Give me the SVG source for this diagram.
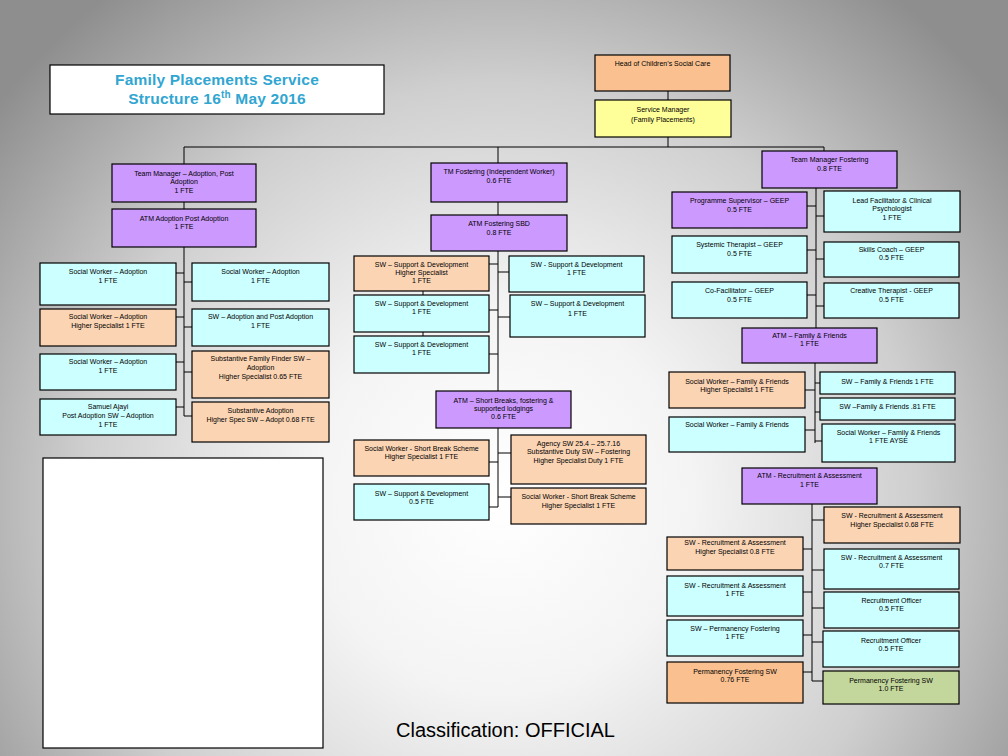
<svg xmlns="http://www.w3.org/2000/svg" width="1008" height="756" viewBox="0 0 1008 756">
<defs>
<radialGradient id="bg" gradientUnits="userSpaceOnUse" cx="500" cy="500" r="640">
<stop offset="0" stop-color="#ffffff"/>
<stop offset="0.3" stop-color="#f4f4f4"/>
<stop offset="0.65" stop-color="#cfcfcf"/>
<stop offset="1" stop-color="#8e8e8e"/>
</radialGradient>
<style>
rect.n{stroke:#000;stroke-width:1.2}
.pu{fill:#cc99ff}.cy{fill:#ccffff}.pe{fill:#fbd4b4}.or{fill:#fac090}.ye{fill:#ffff99}.gr{fill:#c3d69b}.wh{fill:#fff}
text.t{font-family:"Liberation Sans",Arial,sans-serif;font-size:7px;fill:#000;text-anchor:middle}
.c path{stroke:#000;stroke-width:1;fill:none}
</style>
</defs>
<rect width="1008" height="756" fill="url(#bg)"/>

<g id="title">
<rect class="n wh" x="50" y="65" width="334" height="49"/>
<text x="217" y="85" font-family="Liberation Sans,Arial,sans-serif" font-size="15.5" font-weight="bold" fill="#31a6d1" text-anchor="middle" letter-spacing="0.2">Family Placements Service</text>
<text x="217" y="104" font-family="Liberation Sans,Arial,sans-serif" font-size="15.5" font-weight="bold" fill="#31a6d1" text-anchor="middle" letter-spacing="0.2">Structure 16<tspan font-size="10" dy="-6">th</tspan><tspan dy="6"> May 2016</tspan></text>
</g>

<g class="c" id="connectors">
<path d="M668 91V100M668 137V147M184 147H824M184 147V164M498 147V163M824 147V151"/>
<path d="M184 202V209M184 247V416M176 273H184M176 317H184M176 362H184M176 407H184M184 282H192M184 327H192M184 372H192M184 416H192"/>
<path d="M498 202V215M498 251V391M489 264H498M489 310H498M489 354H498M498 272H509M498 317H510M423 291V295M423 332V336"/>
<path d="M498 428V507M489 462H498M489 507H498M498 453H511M498 497H511"/>
<path d="M816 188V328M807 206H816M807 250H816M807 295H816M816 216H824M816 259H824M816 306H824"/>
<path d="M815 363V443M805 390H815M805 430H815M815 383H820M815 412H820M815 441H822"/>
<path d="M812 504V681M803 549H812M803 592H812M803 635H812M803 672H812M812 520H824M812 570H824M812 608H824M812 642H823M812 681H823"/>
</g>

<g id="head"><rect class="n or" x="595" y="55" width="135" height="36"/><text class="t" x="662.5" y="66">Head of Children’s Social Care</text></g>
<g id="sm"><rect class="n ye" x="595" y="100" width="136" height="37"/><text class="t" x="663" y="111.5">Service Manager<tspan x="663" dy="10">(Family Placements)</tspan></text></g>

<g id="tmAdopt"><rect class="n pu" x="112" y="164" width="144" height="38"/><text class="t" x="184" y="175.5">Team Manager – Adoption, Post<tspan x="184" dy="8.5">Adoption</tspan><tspan x="184" dy="8.5">1 FTE</tspan></text></g>
<g id="atmAdopt"><rect class="n pu" x="112" y="209" width="144" height="38"/><text class="t" x="184" y="220.5">ATM Adoption Post Adoption<tspan x="184" dy="8.5">1 FTE</tspan></text></g>
<g id="tmFostIW"><rect class="n pu" x="431" y="163" width="136" height="39"/><text class="t" x="499" y="173.5">TM Fostering (Independent Worker)<tspan x="499" dy="9">0.6 FTE</tspan></text></g>
<g id="atmSBD"><rect class="n pu" x="431" y="215" width="136" height="36"/><text class="t" x="499" y="225.5">ATM Fostering SBD<tspan x="499" dy="9">0.8 FTE</tspan></text></g>
<g id="tmFost"><rect class="n pu" x="762" y="151" width="135" height="37"/><text class="t" x="829.5" y="161.5">Team Manager Fostering<tspan x="829.5" dy="9">0.8 FTE</tspan></text></g>

<g id="progSup"><rect class="n pu" x="672" y="192" width="135" height="36"/><text class="t" x="739.5" y="202.5">Programme Supervisor – GEEP<tspan x="739.5" dy="9">0.5 FTE</tspan></text></g>
<g id="leadFac"><rect class="n cy" x="824" y="191" width="136" height="41"/><text class="t" x="892" y="202.5">Lead Facilitator &amp; Clinical<tspan x="892" dy="8.5">Psychologist</tspan><tspan x="892" dy="8.5">1 FTE</tspan></text></g>
<g id="systemic"><rect class="n cy" x="672" y="236" width="135" height="37"/><text class="t" x="739.5" y="246.5">Systemic Therapist – GEEP<tspan x="739.5" dy="9">0.5 FTE</tspan></text></g>
<g id="skills"><rect class="n cy" x="824" y="242" width="135" height="35"/><text class="t" x="891.5" y="251.5">Skills Coach – GEEP<tspan x="891.5" dy="8.5">0.5 FTE</tspan></text></g>
<g id="coFac"><rect class="n cy" x="672" y="282" width="135" height="36"/><text class="t" x="739.5" y="292.5">Co-Facilitator – GEEP<tspan x="739.5" dy="9">0.5 FTE</tspan></text></g>
<g id="creative"><rect class="n cy" x="824" y="283" width="135" height="35"/><text class="t" x="891.5" y="292.5">Creative Therapist - GEEP<tspan x="891.5" dy="9">0.5 FTE</tspan></text></g>

<g id="atmFF"><rect class="n pu" x="742" y="328" width="135" height="35"/><text class="t" x="809.5" y="337.5">ATM – Family &amp; Friends<tspan x="809.5" dy="8.5">1 FTE</tspan></text></g>
<g id="swFFHS"><rect class="n pe" x="669" y="372" width="136" height="36"/><text class="t" x="737" y="383.5">Social Worker – Family &amp; Friends<tspan x="737" dy="8">Higher Specialist 1 FTE</tspan></text></g>
<g id="swFF1"><rect class="n cy" x="820" y="372" width="135" height="22"/><text class="t" x="887.5" y="383.5">SW – Family &amp; Friends 1 FTE</text></g>
<g id="swFF81"><rect class="n cy" x="820" y="398" width="135" height="22"/><text class="t" x="887.5" y="409">SW –Family &amp; Friends .81 FTE</text></g>
<g id="swFFL"><rect class="n cy" x="669" y="417" width="136" height="35"/><text class="t" x="737" y="426.5">Social Worker – Family &amp; Friends</text></g>
<g id="swFFAYSE"><rect class="n cy" x="822" y="424" width="133" height="38"/><text class="t" x="888.5" y="435">Social Worker – Family &amp; Friends<tspan x="888.5" dy="8">1 FTE AYSE</tspan></text></g>

<g id="atmRA"><rect class="n pu" x="742" y="468" width="135" height="36"/><text class="t" x="809.5" y="478">ATM - Recruitment &amp; Assessment<tspan x="809.5" dy="9">1 FTE</tspan></text></g>
<g id="swRAHS068"><rect class="n pe" x="824" y="507" width="136" height="36"/><text class="t" x="892" y="518">SW - Recruitment &amp; Assessment<tspan x="892" dy="8.5">Higher Specialist 0.68 FTE</tspan></text></g>
<g id="swRAHS08"><rect class="n pe" x="667" y="537" width="136" height="33"/><text class="t" x="735" y="545">SW - Recruitment &amp; Assessment<tspan x="735" dy="8.5">Higher Specialist 0.8 FTE</tspan></text></g>
<g id="swRA07"><rect class="n cy" x="824" y="549" width="135" height="40"/><text class="t" x="891.5" y="560">SW - Recruitment &amp; Assessment<tspan x="891.5" dy="8">0.7 FTE</tspan></text></g>
<g id="swRA1"><rect class="n cy" x="667" y="576" width="136" height="40"/><text class="t" x="735" y="587.5">SW - Recruitment &amp; Assessment<tspan x="735" dy="8.5">1 FTE</tspan></text></g>
<g id="recOff1"><rect class="n cy" x="824" y="592" width="135" height="36"/><text class="t" x="891.5" y="603">Recruitment Officer<tspan x="891.5" dy="8">0.5 FTE</tspan></text></g>
<g id="swPerm"><rect class="n cy" x="667" y="620" width="136" height="36"/><text class="t" x="735" y="630.5">SW – Permanency Fostering<tspan x="735" dy="8.5">1 FTE</tspan></text></g>
<g id="recOff2"><rect class="n cy" x="823" y="631" width="136" height="36"/><text class="t" x="891" y="642.5">Recruitment Officer<tspan x="891" dy="8.5">0.5 FTE</tspan></text></g>
<g id="permSW076"><rect class="n or" x="667" y="662" width="136" height="41"/><text class="t" x="735" y="673.5">Permanency Fostering SW<tspan x="735" dy="8.5">0.76 FTE</tspan></text></g>
<g id="permSW10"><rect class="n gr" x="823" y="671" width="136" height="33"/><text class="t" x="891" y="682.5">Permanency Fostering SW<tspan x="891" dy="8.5">1.0 FTE</tspan></text></g>

<g id="swA1L"><rect class="n cy" x="40" y="263" width="136" height="42"/><text class="t" x="108" y="274">Social Worker – Adoption<tspan x="108" dy="9">1 FTE</tspan></text></g>
<g id="swA1R"><rect class="n cy" x="192" y="263" width="137" height="38"/><text class="t" x="260.5" y="274">Social Worker – Adoption<tspan x="260.5" dy="9">1 FTE</tspan></text></g>
<g id="swAHS"><rect class="n pe" x="40" y="309" width="136" height="37"/><text class="t" x="108" y="319">Social Worker – Adoption<tspan x="108" dy="9">Higher Specialist 1 FTE</tspan></text></g>
<g id="swAPA"><rect class="n cy" x="192" y="309" width="137" height="37"/><text class="t" x="260.5" y="319">SW – Adoption and Post Adoption<tspan x="260.5" dy="9">1 FTE</tspan></text></g>
<g id="swA1L2"><rect class="n cy" x="40" y="354" width="136" height="36"/><text class="t" x="108" y="364">Social Worker – Adoption<tspan x="108" dy="9">1 FTE</tspan></text></g>
<g id="subFF"><rect class="n pe" x="192" y="351" width="137" height="47"/><text class="t" x="260.5" y="361">Substantive  Family Finder SW –<tspan x="260.5" dy="9">Adoption</tspan><tspan x="260.5" dy="8.5">Higher Specialist 0.65 FTE</tspan></text></g>
<g id="samuel"><rect class="n cy" x="40" y="399" width="136" height="36"/><text class="t" x="108" y="409">Samuel Ajayi<tspan x="108" dy="9">Post Adoption SW – Adoption</tspan><tspan x="108" dy="8.5">1 FTE</tspan></text></g>
<g id="subAdopt"><rect class="n pe" x="192" y="402" width="137" height="40"/><text class="t" x="260.5" y="413">Substantive  Adoption<tspan x="260.5" dy="8.5">Higher Spec SW – Adopt 0.68  FTE</tspan></text></g>

<g id="swSDHS"><rect class="n pe" x="354" y="256" width="135" height="35"/><text class="t" x="421.5" y="266.5">SW – Support &amp; Development<tspan x="421.5" dy="8.5">Higher Specialist</tspan><tspan x="421.5" dy="8">1 FTE</tspan></text></g>
<g id="swSD1R"><rect class="n cy" x="509" y="256" width="135" height="36"/><text class="t" x="576.5" y="266.5">SW - Support &amp; Development<tspan x="576.5" dy="8">1 FTE</tspan></text></g>
<g id="swSD1L2"><rect class="n cy" x="354" y="295" width="135" height="37"/><text class="t" x="421.5" y="306">SW – Support &amp; Development<tspan x="421.5" dy="8">1 FTE</tspan></text></g>
<g id="swSD1R2"><rect class="n cy" x="510" y="295" width="135" height="42"/><text class="t" x="577.5" y="306">SW – Support &amp; Development<tspan x="577.5" dy="10">1 FTE</tspan></text></g>
<g id="swSD1L3"><rect class="n cy" x="354" y="336" width="135" height="37"/><text class="t" x="421.5" y="347">SW – Support &amp; Development<tspan x="421.5" dy="8">1 FTE</tspan></text></g>

<g id="atmSB"><rect class="n pu" x="436" y="391" width="135" height="37"/><text class="t" x="503.5" y="402.5">ATM – Short Breaks, fostering &amp;<tspan x="503.5" dy="8">supported lodgings</tspan><tspan x="503.5" dy="8">0.6 FTE</tspan></text></g>
<g id="swSBHS"><rect class="n pe" x="354" y="440" width="135" height="36"/><text class="t" x="421.5" y="451">Social Worker - Short Break Scheme<tspan x="421.5" dy="7.5">Higher Specialist 1 FTE</tspan></text></g>
<g id="agency"><rect class="n pe" x="511" y="435" width="135" height="49"/><text class="t" x="578.5" y="446">Agency SW 25.4 – 25.7.16<tspan x="578.5" dy="8">Substantive  Duty SW – Fostering</tspan><tspan x="578.5" dy="8.5">Higher Specialist Duty 1 FTE</tspan></text></g>
<g id="swSD05"><rect class="n cy" x="354" y="484" width="135" height="36"/><text class="t" x="421.5" y="496">SW – Support &amp; Development<tspan x="421.5" dy="7.5">0.5 FTE</tspan></text></g>
<g id="swSBHS2"><rect class="n pe" x="511" y="488" width="135" height="36"/><text class="t" x="578.5" y="499">Social Worker - Short Break Scheme<tspan x="578.5" dy="8.5">Higher Specialist 1 FTE</tspan></text></g>

<g id="blank"><rect class="n wh" x="43" y="458" width="280" height="290"/></g>
<text x="396" y="737" font-family="Liberation Sans,Arial,sans-serif" font-size="20" fill="#000">Classification: OFFICIAL</text>
</svg>
